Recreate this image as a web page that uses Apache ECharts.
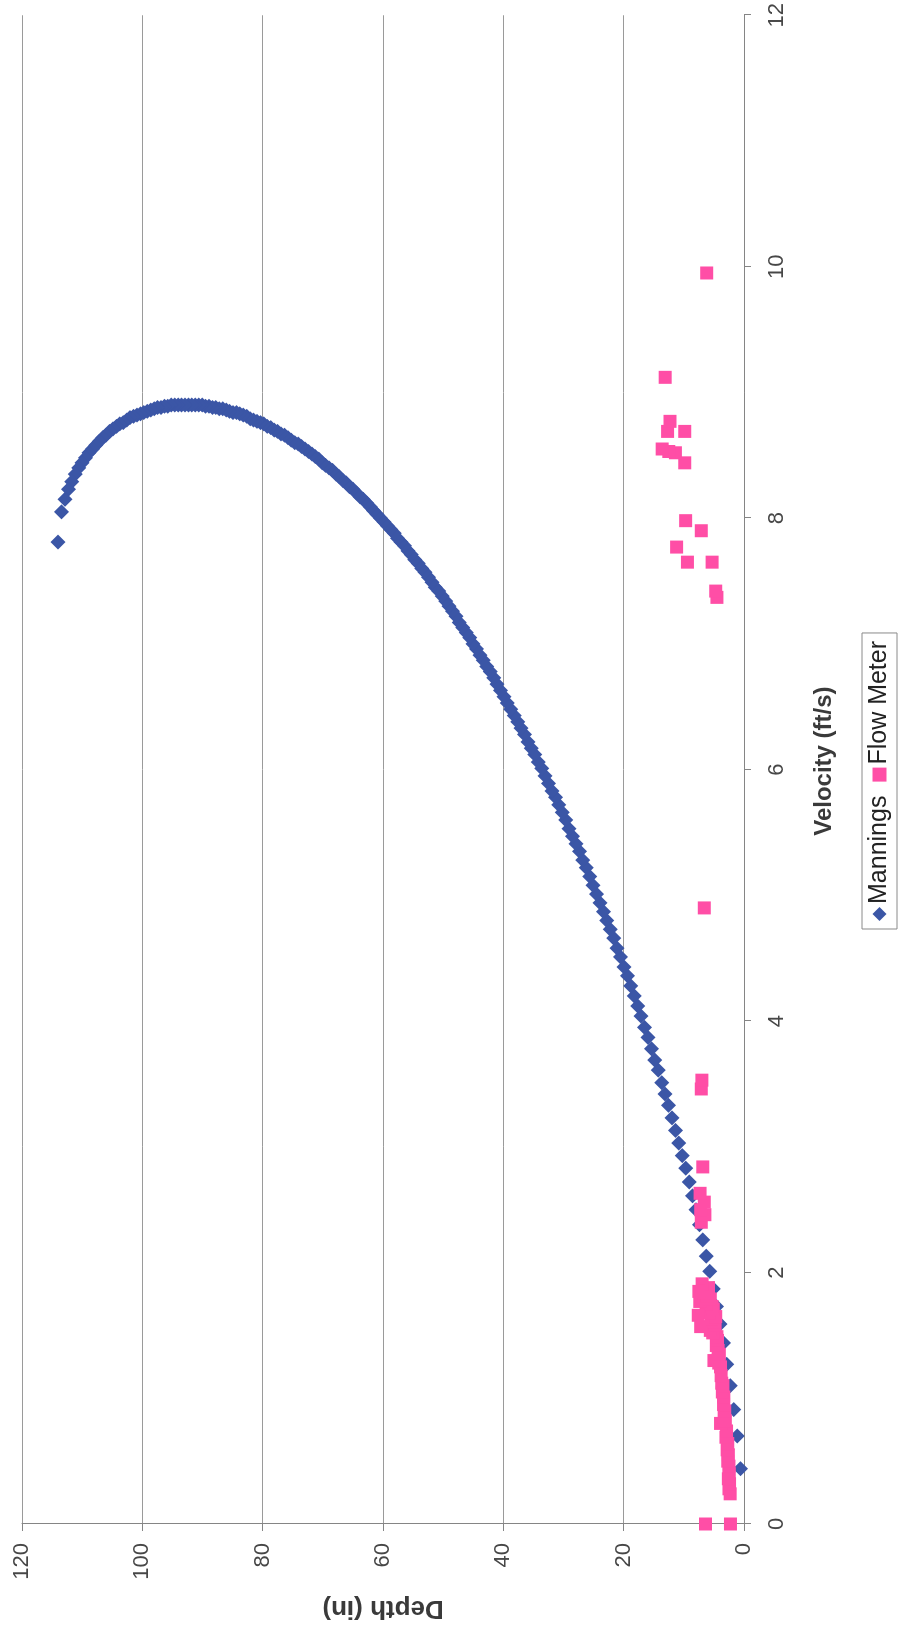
<!DOCTYPE html>
<html>
<head>
<meta charset="utf-8">
<script src="https://cdn.jsdelivr.net/npm/echarts@6/dist/echarts.min.js"></script>
<style>
  html, body { margin: 0; padding: 0; background: #ffffff; width: 899px; height: 1635px; overflow: hidden; }
  /* chart is laid out landscape and turned a quarter turn counter-clockwise onto the portrait page */
  #chart {
    position: absolute; left: 0; top: 0;
    width: 1635px; height: 899px;
    transform-origin: 0 0;
    transform: translateY(1635px) rotate(-90deg);
  }
</style>
</head>
<body>
<div id="chart"></div>
<script>
// Manning's estimate for the pipe: flow depth (in) and velocity (ft/s)
const manningsDepth = [
  0.57, 1.14, 1.71, 2.28, 2.85, 3.42, 3.99, 4.56, 5.13, 5.70,
  6.27, 6.84, 7.41, 7.98, 8.55, 9.12, 9.69, 10.26, 10.83, 11.40,
  11.97, 12.54, 13.11, 13.68, 14.25, 14.82, 15.39, 15.96, 16.53, 17.10,
  17.67, 18.24, 18.81, 19.38, 19.95, 20.52, 21.09, 21.66, 22.23, 22.80,
  23.37, 23.94, 24.51, 25.08, 25.65, 26.22, 26.79, 27.36, 27.93, 28.50,
  29.07, 29.64, 30.21, 30.78, 31.35, 31.92, 32.49, 33.06, 33.63, 34.20,
  34.77, 35.34, 35.91, 36.48, 37.05, 37.62, 38.19, 38.76, 39.33, 39.90,
  40.47, 41.04, 41.61, 42.18, 42.75, 43.32, 43.89, 44.46, 45.03, 45.60,
  46.17, 46.74, 47.31, 47.88, 48.45, 49.02, 49.59, 50.16, 50.73, 51.30,
  51.87, 52.44, 53.01, 53.58, 54.15, 54.72, 55.29, 55.86, 56.43, 57.00,
  57.57, 58.14, 58.71, 59.28, 59.85, 60.42, 60.99, 61.56, 62.13, 62.70,
  63.27, 63.84, 64.41, 64.98, 65.55, 66.12, 66.69, 67.26, 67.83, 68.40,
  68.97, 69.54, 70.11, 70.68, 71.25, 71.82, 72.39, 72.96, 73.53, 74.10,
  74.67, 75.24, 75.81, 76.38, 76.95, 77.52, 78.09, 78.66, 79.23, 79.80,
  80.37, 80.94, 81.51, 82.08, 82.65, 83.22, 83.79, 84.36, 84.93, 85.50,
  86.07, 86.64, 87.21, 87.78, 88.35, 88.92, 89.49, 90.06, 90.63, 91.20,
  91.77, 92.34, 92.91, 93.48, 94.05, 94.62, 95.19, 95.76, 96.33, 96.90,
  97.47, 98.04, 98.61, 99.18, 99.75, 100.32, 100.89, 101.46, 102.03, 102.60,
  103.17, 103.74, 104.31, 104.88, 105.45, 106.02, 106.59, 107.16, 107.73, 108.30,
  108.87, 109.44, 110.01, 110.58, 111.15, 111.72, 112.29, 112.86, 113.43, 114.00
];
const manningsVelocity = [
  0.44, 0.70, 0.91, 1.10, 1.27, 1.44, 1.59, 1.73, 1.87, 2.01,
  2.13, 2.26, 2.38, 2.50, 2.61, 2.72, 2.83, 2.93, 3.03, 3.13,
  3.23, 3.33, 3.42, 3.51, 3.61, 3.69, 3.78, 3.87, 3.95, 4.04,
  4.12, 4.20, 4.28, 4.36, 4.43, 4.51, 4.58, 4.66, 4.73, 4.80,
  4.87, 4.94, 5.01, 5.08, 5.15, 5.22, 5.28, 5.35, 5.41, 5.47,
  5.53, 5.60, 5.66, 5.72, 5.78, 5.83, 5.89, 5.95, 6.01, 6.06,
  6.12, 6.17, 6.22, 6.28, 6.33, 6.38, 6.43, 6.48, 6.53, 6.58,
  6.63, 6.68, 6.73, 6.78, 6.82, 6.87, 6.91, 6.96, 7.00, 7.05,
  7.09, 7.13, 7.17, 7.22, 7.26, 7.30, 7.34, 7.38, 7.42, 7.45,
  7.49, 7.53, 7.57, 7.60, 7.64, 7.67, 7.71, 7.74, 7.78, 7.81,
  7.84, 7.88, 7.91, 7.94, 7.97, 8.00, 8.03, 8.06, 8.09, 8.12,
  8.15, 8.17, 8.20, 8.23, 8.25, 8.28, 8.30, 8.33, 8.35, 8.38,
  8.40, 8.42, 8.44, 8.47, 8.49, 8.51, 8.53, 8.55, 8.57, 8.59,
  8.60, 8.62, 8.64, 8.66, 8.67, 8.69, 8.70, 8.72, 8.73, 8.75,
  8.76, 8.77, 8.78, 8.79, 8.81, 8.82, 8.83, 8.84, 8.84, 8.85,
  8.86, 8.87, 8.87, 8.88, 8.88, 8.89, 8.89, 8.90, 8.90, 8.90,
  8.90, 8.90, 8.90, 8.90, 8.90, 8.90, 8.90, 8.89, 8.89, 8.88,
  8.88, 8.87, 8.86, 8.85, 8.84, 8.83, 8.82, 8.81, 8.80, 8.78,
  8.76, 8.75, 8.73, 8.71, 8.69, 8.66, 8.64, 8.61, 8.58, 8.55,
  8.52, 8.48, 8.44, 8.40, 8.35, 8.29, 8.23, 8.15, 8.05, 7.81
];

// Flow meter readings: velocity (ft/s) and depth (in)
const meterVelocity = [
  0, 0, 0.24, 0.28, 0.32, 0.36, 0.40, 0.46, 0.50, 0.55,
  0.59, 0.64, 0.69, 0.74, 0.80, 0.82, 0.85, 0.90, 0.95, 1.01,
  1.05, 1.10, 1.12, 1.18, 1.25, 1.28, 1.30, 1.35, 1.38, 1.42,
  1.46, 1.49, 1.52, 1.54, 1.57, 1.58, 1.61, 1.63, 1.65, 1.68,
  1.71, 1.73, 1.75, 1.77, 1.79, 1.81, 1.84, 1.88, 1.91, 2.40,
  2.46, 2.50, 2.56, 2.63, 2.84, 3.46, 3.53, 4.90, 7.37, 7.42,
  7.65, 7.65, 7.77, 7.90, 7.98, 8.44, 8.52, 8.53, 8.55, 8.69,
  8.69, 8.77, 9.12, 9.95, 1.66, 1.85
];
const meterDepth = [
  6.4, 2.25, 2.3, 2.5, 2.4, 2.6, 2.45, 2.5, 2.7, 2.6,
  2.8, 2.7, 3.0, 2.9, 3.9, 3.1, 3.3, 3.2, 3.4, 3.35,
  3.6, 3.5, 3.7, 3.8, 3.9, 4.2, 5.0, 4.1, 4.3, 4.6,
  4.4, 4.5, 5.2, 5.6, 7.2, 4.8, 4.9, 5.4, 4.7, 5.8,
  5.1, 5.3, 6.3, 7.35, 5.6, 6.1, 6.6, 5.9, 6.96, 7.1,
  6.5, 7.2, 6.6, 7.3, 6.85, 7.1, 7.0, 6.6, 4.5, 4.7,
  5.3, 9.4, 11.2, 7.1, 9.7, 9.85, 11.4, 12.5, 13.6, 12.7,
  9.85, 12.3, 13.1, 6.2, 7.6, 7.5
];

const seriesNames = ['Mannings', 'Flow Meter'];
const velocityRange = { min: 0, max: 12, step: 2 };
const depthRange = { min: 0, max: 120, step: 20 };

const manningsPoints = manningsVelocity.map((v, i) => [v, manningsDepth[i]]);
const meterPoints = meterVelocity.map((v, i) => [v, meterDepth[i]]);

const FONT = '"Liberation Sans", Arial, Helvetica, sans-serif';
const chart = echarts.init(document.getElementById('chart'), null, { renderer: 'canvas' });

chart.setOption({
  backgroundColor: '#ffffff',
  animation: false,
  textStyle: { fontFamily: FONT },
  grid: { left: 111, right: 15, top: 22, bottom: 155, containLabel: false },
  legend: {
    data: seriesNames,
    left: 706,
    top: 862,
    orient: 'horizontal',
    itemWidth: 14,
    itemHeight: 14,
    itemGap: 14,
    padding: [5, 8, 5, 8],
    borderColor: '#8a8a8a',
    borderWidth: 1,
    borderRadius: 0,
    textStyle: { fontFamily: FONT, fontSize: 25, color: '#222222', padding: [0, 0, 0, -2] }
  },
  xAxis: {
    type: 'value',
    min: velocityRange.min,
    max: velocityRange.max,
    interval: velocityRange.step,
    name: 'Velocity (ft/s)',
    nameLocation: 'middle',
    nameGap: 68,
    nameTextStyle: { fontFamily: FONT, fontSize: 24, fontWeight: 'bold', color: '#3a3a3a', padding: [0, 0, 0, 17] },
    axisLine: { show: true, onZero: false, lineStyle: { color: '#858585', width: 1 } },
    axisTick: { show: true, inside: false, length: 7, lineStyle: { color: '#858585' } },
    axisLabel: { margin: 22, fontFamily: FONT, fontSize: 22, color: '#474747' },
    splitLine: { show: false }
  },
  yAxis: {
    type: 'value',
    min: depthRange.min,
    max: depthRange.max,
    interval: depthRange.step,
    name: 'Depth (in)',
    nameLocation: 'middle',
    nameRotate: 90,
    nameGap: 71,
    nameTextStyle: { fontFamily: FONT, fontSize: 26, fontWeight: 'bold', color: '#3a3a3a' },
    axisLine: { show: true, onZero: false, lineStyle: { color: '#858585', width: 1 } },
    axisTick: { show: true, inside: false, length: 7, lineStyle: { color: '#858585' } },
    axisLabel: { margin: 19, fontFamily: FONT, fontSize: 22, color: '#474747' },
    splitLine: { show: true, lineStyle: { color: '#9a9a9a', width: 1 } }
  },
  series: [
    {
      name: seriesNames[0],
      type: 'scatter',
      symbol: 'diamond',
      symbolSize: 15,
      itemStyle: { color: '#3b56a6', opacity: 1 },
      data: manningsPoints,
      z: 2
    },
    {
      name: seriesNames[1],
      type: 'scatter',
      symbol: 'rect',
      symbolSize: 13,
      itemStyle: { color: '#ff4ea6', opacity: 1 },
      data: meterPoints,
      z: 3
    }
  ]
});
</script>
</body>
</html>
